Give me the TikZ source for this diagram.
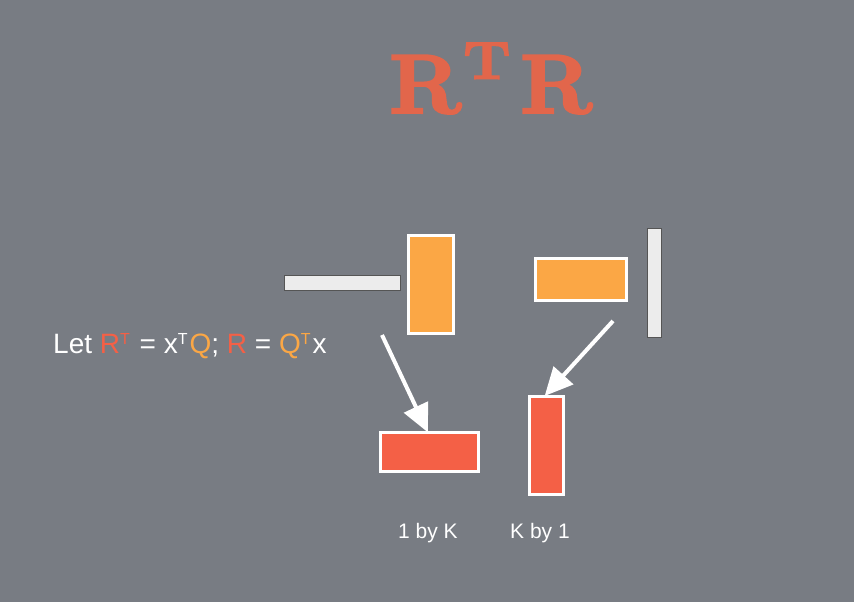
\documentclass[tikz,border=0pt]{standalone}
\usepackage{fontspec}
\setsansfont{Liberation Sans}
\newfontface\titlebf{lmroman10-bold.otf}[FakeBold=2.5]
\newfontface\titlebfs{lmroman7-bold.otf}[FakeBold=2]
\usetikzlibrary{arrows.meta}
\definecolor{bgc}{RGB}{120,124,131}
\definecolor{orng}{RGB}{251,167,69}
\definecolor{redc}{RGB}{244,96,70}
\definecolor{titlec}{RGB}{226,102,75}
\definecolor{lgray}{RGB}{236,236,236}
\definecolor{dgray}{RGB}{85,85,85}
\tikzset{
  orangebox/.style={draw=white,line width=3pt,fill=orng,inner sep=0pt,anchor=north west},
  redbox/.style={draw=white,line width=3pt,fill=redc,inner sep=0pt,anchor=north west},
  graybar/.style={draw=dgray,line width=1pt,fill=lgray,inner sep=0pt,anchor=north west},
  bigarrow/.style={draw=white,line width=4pt,-{Triangle[length=28pt,width=26pt]},shorten >=-2pt},
  lbl/.style={text=white,font=\sffamily\fontsize{21}{25}\selectfont,inner sep=0pt,anchor=base west}
}
\newcommand{\supT}[1]{\raisebox{8.5pt}{\fontsize{16}{16}\selectfont\color{#1}T}\kern2pt}
\begin{document}
\begin{tikzpicture}[x=1pt,y=-1pt]
\fill[bgc] (0,0) rectangle (854,602);
\useasboundingbox (0,0) rectangle (854,602);
% title
\node[text=titlec,inner sep=0pt,anchor=base west] (title) at (389,113)
  {\titlebf\fontsize{84}{90}\selectfont R\kern1pt\raisebox{34pt}{\titlebfs\fontsize{54}{60}\selectfont T}\kern9pt R};
% left group
\node[graybar,minimum width=116pt,minimum height=15pt] (g1) at (283.5,274.5) {};
\node[orangebox,minimum width=45pt,minimum height=98pt] (o1) at (406.5,233.5) {};
\node[redbox,minimum width=98pt,minimum height=39pt] (r1) at (378.5,430.5) {};
% right group
\node[orangebox,minimum width=91pt,minimum height=42pt] (o2) at (533.5,256.5) {};
\node[graybar,minimum width=14pt,minimum height=109pt] (g2) at (646.5,227.5) {};
\node[redbox,minimum width=34pt,minimum height=98pt] (r2) at (527.5,394.5) {};
% arrows
\coordinate (a1) at (382,335);
\coordinate (a2) at (613,321);
\draw[bigarrow] (a1) -- (r1.north -| 427,0);
\draw[bigarrow] (a2) -- (r2.north -| 546,0);
% text
\node[text=white,inner sep=0pt,anchor=base west,font=\sffamily\fontsize{28}{32}\selectfont] (eq) at (53,353)
  {Let \textcolor{redc}{R\supT{redc}} = x\supT{white}\textcolor{orng}{Q}; \textcolor{redc}{R} = \textcolor{orng}{Q\supT{orng}}x};
\node[lbl] (l1) at (398,538) {1 by K};
\node[lbl] (l2) at (510,538) {K by 1};
\end{tikzpicture}
\end{document}
